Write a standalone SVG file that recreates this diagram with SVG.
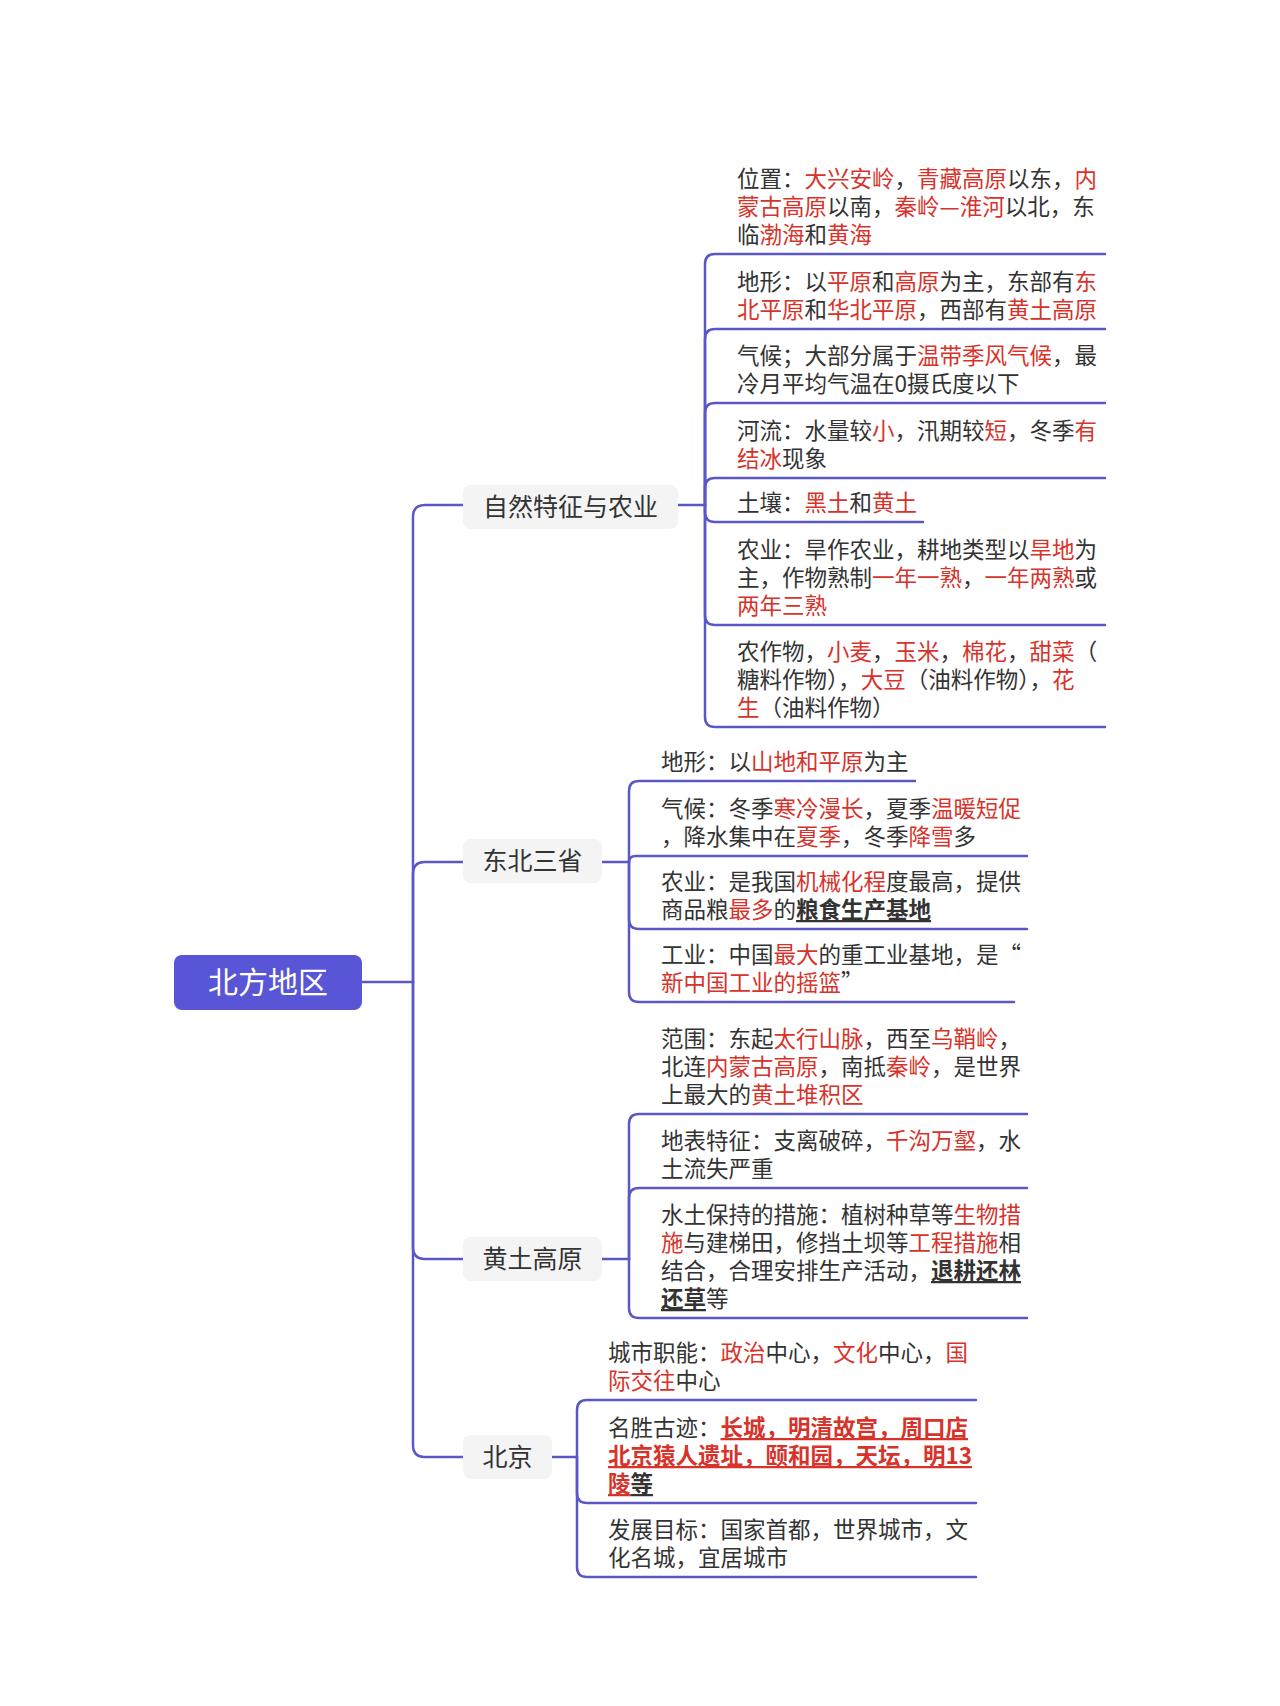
<svg xmlns="http://www.w3.org/2000/svg" width="1280" height="1706" viewBox="0 0 1280 1706">
<style>
.ln{fill:none;stroke:#5a57c6;stroke-width:2.5;stroke-linecap:round}
.t{font-family:"Noto Sans CJK SC","Noto Sans",sans-serif;font-size:22.5px;fill:#333}
.r{fill:#d8332b}
.b{font-weight:700}
.u{text-decoration:underline}
.bx{fill:#f4f4f5}
.bt{font-family:"Noto Sans CJK SC","Noto Sans",sans-serif;font-size:25px;fill:#333;text-anchor:middle}
.rt{font-family:"Noto Sans CJK SC","Noto Sans",sans-serif;font-size:30px;fill:#fff;text-anchor:middle}
</style>
<rect width="1280" height="1706" fill="#fff"/>
<g id="connectors">
<path class="ln" d="M362,982 H413 V517 Q413,505 425,505 H463"/>
<path class="ln" d="M413,982 V874 Q413,862 425,862 H463"/>
<path class="ln" d="M413,982 V1247 Q413,1259 425,1259 H463"/>
<path class="ln" d="M413,982 V1445 Q413,1457 425,1457 H463"/>
<path class="ln" d="M678,505 H705 V264 Q705,254 715,254 H1105"/>
<path class="ln" d="M705,505 V339 Q705,329 715,329 H1105"/>
<path class="ln" d="M705,505 V413 Q705,403 715,403 H1105"/>
<path class="ln" d="M705,505 V488 Q705,478 715,478 H1105"/>
<path class="ln" d="M705,505 V512 Q705,522 715,522 H923"/>
<path class="ln" d="M705,505 V615 Q705,625 715,625 H1105"/>
<path class="ln" d="M705,505 V717 Q705,727 715,727 H1105"/>
<path class="ln" d="M602,862 H629 V791 Q629,781 639,781 H915"/>
<path class="ln" d="M629,862 Q629,856 636,856 H1027"/>
<path class="ln" d="M629,862 V919 Q629,929 639,929 H1027"/>
<path class="ln" d="M629,862 V992 Q629,1002 639,1002 H1014"/>
<path class="ln" d="M602,1259 H629 V1124 Q629,1114 639,1114 H1027"/>
<path class="ln" d="M629,1259 V1198 Q629,1188 639,1188 H1027"/>
<path class="ln" d="M629,1259 V1308 Q629,1318 639,1318 H1027"/>
<path class="ln" d="M552,1457 H577 V1410 Q577,1400 587,1400 H976"/>
<path class="ln" d="M577,1457 V1493 Q577,1503 587,1503 H976"/>
<path class="ln" d="M577,1457 V1567 Q577,1577 587,1577 H976"/>
</g>
<g id="node-root">
<rect x="174" y="955" width="188" height="55" rx="8" fill="#5855d6"/>
<text class="rt" x="268" y="992.5">北方地区</text>
</g>
<g id="node-ziran">
<rect class="bx" x="463" y="485" width="215" height="44" rx="8"/>
<text class="bt" x="570.5" y="515.5">自然特征与农业</text>
</g>
<g id="node-dongbei">
<rect class="bx" x="463" y="839" width="139" height="44" rx="8"/>
<text class="bt" x="532.5" y="869.5">东北三省</text>
</g>
<g id="node-huangtu">
<rect class="bx" x="463" y="1237" width="139" height="44" rx="8"/>
<text class="bt" x="532.5" y="1267.5">黄土高原</text>
</g>
<g id="node-beijing">
<rect class="bx" x="463" y="1435" width="89" height="44" rx="8"/>
<text class="bt" x="507.5" y="1465.5">北京</text>
</g>
<g id="leaf-weizhi">
<text class="t"><tspan x="737" y="187">位置：<tspan class="r">大兴安岭</tspan>，<tspan class="r">青藏高原</tspan>以东，<tspan class="r">内</tspan></tspan><tspan x="737" y="215"><tspan class="r">蒙古高原</tspan>以南，<tspan class="r">秦岭—淮河</tspan>以北，东</tspan><tspan x="737" y="243">临<tspan class="r">渤海</tspan>和<tspan class="r">黄海</tspan></tspan></text>
</g>
<g id="leaf-dixing1">
<text class="t"><tspan x="737" y="290">地形：以<tspan class="r">平原</tspan>和<tspan class="r">高原</tspan>为主，东部有<tspan class="r">东</tspan></tspan><tspan x="737" y="318"><tspan class="r">北平原</tspan>和<tspan class="r">华北平原</tspan>，西部有<tspan class="r">黄土高原</tspan></tspan></text>
</g>
<g id="leaf-qihou1">
<text class="t"><tspan x="737" y="364">气候；大部分属于<tspan class="r">温带季风气候</tspan>，最</tspan><tspan x="737" y="392">冷月平均气温在0摄氏度以下</tspan></text>
</g>
<g id="leaf-heliu">
<text class="t"><tspan x="737" y="439">河流：水量较<tspan class="r">小</tspan>，汛期较<tspan class="r">短</tspan>，冬季<tspan class="r">有</tspan></tspan><tspan x="737" y="467"><tspan class="r">结冰</tspan>现象</tspan></text>
</g>
<g id="leaf-turang">
<text class="t" x="737" y="511">土壤：<tspan class="r">黑土</tspan>和<tspan class="r">黄土</tspan></text>
</g>
<g id="leaf-nongye1">
<text class="t"><tspan x="737" y="558">农业：旱作农业，耕地类型以<tspan class="r">旱地</tspan>为</tspan><tspan x="737" y="586">主，作物熟制<tspan class="r">一年一熟</tspan>，<tspan class="r">一年两熟</tspan>或</tspan><tspan x="737" y="614"><tspan class="r">两年三熟</tspan></tspan></text>
</g>
<g id="leaf-nongzuowu">
<text class="t"><tspan x="737" y="660">农作物，<tspan class="r">小麦</tspan>，<tspan class="r">玉米</tspan>，<tspan class="r">棉花</tspan>，<tspan class="r">甜菜</tspan>（</tspan><tspan x="737" y="688">糖料作物），<tspan class="r">大豆</tspan>（油料作物），<tspan class="r">花</tspan></tspan><tspan x="737" y="716"><tspan class="r">生</tspan>（油料作物）</tspan></text>
</g>
<g id="leaf-dixing2">
<text class="t" x="661" y="770">地形：以<tspan class="r">山地和平原</tspan>为主</text>
</g>
<g id="leaf-qihou2">
<text class="t"><tspan x="661" y="817">气候：冬季<tspan class="r">寒冷漫长</tspan>，夏季<tspan class="r">温暖短促</tspan></tspan><tspan x="661" y="845">，降水集中在<tspan class="r">夏季</tspan>，冬季<tspan class="r">降雪</tspan>多</tspan></text>
</g>
<g id="leaf-nongye2">
<text class="t"><tspan x="661" y="890">农业：是我国<tspan class="r">机械化程</tspan>度最高，提供</tspan><tspan x="661" y="918">商品粮<tspan class="r">最多</tspan>的<tspan class="b u">粮食生产基地</tspan></tspan></text>
</g>
<g id="leaf-gongye">
<text class="t"><tspan x="661" y="963">工业：中国<tspan class="r">最大</tspan>的重工业基地，是“</tspan><tspan x="661" y="991"><tspan class="r">新中国工业的摇篮</tspan>”</tspan></text>
</g>
<g id="leaf-fanwei">
<text class="t"><tspan x="661" y="1047">范围：东起<tspan class="r">太行山脉</tspan>，西至<tspan class="r">乌鞘岭</tspan>，</tspan><tspan x="661" y="1075">北连<tspan class="r">内蒙古高原</tspan>，南抵<tspan class="r">秦岭</tspan>，是世界</tspan><tspan x="661" y="1103">上最大的<tspan class="r">黄土堆积区</tspan></tspan></text>
</g>
<g id="leaf-dibiao">
<text class="t"><tspan x="661" y="1149">地表特征：支离破碎，<tspan class="r">千沟万壑</tspan>，水</tspan><tspan x="661" y="1177">土流失严重</tspan></text>
</g>
<g id="leaf-shuitu">
<text class="t"><tspan x="661" y="1223">水土保持的措施：植树种草等<tspan class="r">生物措</tspan></tspan><tspan x="661" y="1251"><tspan class="r">施</tspan>与建梯田，修挡土坝等<tspan class="r">工程措施</tspan>相</tspan><tspan x="661" y="1279">结合，合理安排生产活动，<tspan class="b u">退耕还林</tspan></tspan><tspan x="661" y="1307"><tspan class="b u">还草</tspan>等</tspan></text>
</g>
<g id="leaf-chengshi">
<text class="t"><tspan x="608" y="1361">城市职能：<tspan class="r">政治</tspan>中心，<tspan class="r">文化</tspan>中心，<tspan class="r">国</tspan></tspan><tspan x="608" y="1389"><tspan class="r">际交往</tspan>中心</tspan></text>
</g>
<g id="leaf-mingsheng">
<text class="t"><tspan x="608" y="1436">名胜古迹：<tspan class="r b u">长城，明清故宫，周口店</tspan></tspan><tspan x="608" y="1464"><tspan class="r b u">北京猿人遗址，颐和园，天坛，明13</tspan></tspan><tspan x="608" y="1492"><tspan class="r b u">陵</tspan><tspan class="b u">等</tspan></tspan></text>
</g>
<g id="leaf-fazhan">
<text class="t"><tspan x="608" y="1538">发展目标：国家首都，世界城市，文</tspan><tspan x="608" y="1566">化名城，宜居城市</tspan></text>
</g>
</svg>
